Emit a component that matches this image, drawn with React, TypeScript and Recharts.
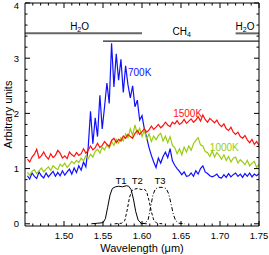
import { LineChart, Line, XAxis, YAxis, ReferenceLine, ReferenceDot } from "recharts"

const FONT = "'Liberation Sans', Arial, Helvetica, sans-serif"

// wavelength grid (micron)
const wavelengths = [
  1.453, 1.456, 1.459, 1.462, 1.465, 1.468, 1.471, 1.474, 1.477, 1.48,
  1.483, 1.486, 1.489, 1.492, 1.495, 1.498, 1.501, 1.504, 1.507, 1.51,
  1.513, 1.516, 1.519, 1.522, 1.525, 1.528, 1.531, 1.534, 1.537, 1.54,
  1.543, 1.546, 1.549, 1.552, 1.555, 1.558, 1.561, 1.564, 1.567, 1.57,
  1.573, 1.576, 1.579, 1.582, 1.585, 1.588, 1.591, 1.594, 1.597, 1.6,
  1.603, 1.606, 1.609, 1.612, 1.615, 1.618, 1.621, 1.624, 1.627, 1.63,
  1.633, 1.636, 1.639, 1.642, 1.645, 1.648, 1.651, 1.654, 1.657, 1.66,
  1.663, 1.666, 1.669, 1.672, 1.675, 1.678, 1.681, 1.684, 1.687, 1.69,
  1.693, 1.696, 1.699, 1.702, 1.705, 1.708, 1.711, 1.714, 1.717, 1.72,
  1.723, 1.726, 1.729, 1.732, 1.735, 1.738, 1.741, 1.744, 1.747, 1.75,
]

const flux700K = [
  0.87, 0.81, 0.92, 0.86, 0.82, 0.94, 0.87, 0.83, 0.92, 0.85,
  0.9, 0.95, 0.86, 0.93, 0.87, 0.96, 0.88, 0.94, 0.99, 0.9,
  1.01, 0.93, 1.05, 0.97, 1.12, 1.03, 1.38, 2.04, 1.45, 1.92,
  1.58, 2.33, 1.72, 2.12, 2.55, 2.18, 3.27, 2.48, 3.08, 2.6,
  2.98, 2.38, 2.86, 2.52, 2.28, 2.5, 2.12, 2.24, 1.88, 1.96,
  1.72, 1.56, 1.38, 1.24, 1.12, 1.02, 1.19, 1.1, 1.22, 1.3,
  1.2, 1.36, 1.14, 1.06, 1.0, 0.95, 0.89, 0.94, 0.86, 0.87,
  0.92, 0.86, 0.96, 0.9, 1.0, 1.05, 0.94, 0.91, 0.87, 0.85,
  0.87, 0.9, 0.84, 0.83, 0.89, 0.84, 0.91, 0.85, 0.89, 0.92,
  0.86, 0.9, 0.84, 0.91, 0.86, 0.92, 0.85, 0.9, 0.87, 0.91,
]

const flux1000K = [
  0.93, 0.88, 0.95, 0.98, 0.91, 0.96, 1.01, 0.94, 0.99, 1.03,
  0.97, 1.05, 1.01, 0.98, 1.08, 1.04, 1.1, 1.02, 1.07, 1.13,
  1.09, 1.15, 1.11, 1.19, 1.14, 1.23, 1.18, 1.26, 1.21, 1.31,
  1.35, 1.28, 1.39, 1.34, 1.43, 1.37, 1.49, 1.42, 1.53, 1.46,
  1.56, 1.5, 1.63, 1.56, 1.72, 1.6, 1.79, 1.63, 1.73, 1.58,
  1.69, 1.53, 1.63, 1.49, 1.59, 1.52, 1.6, 1.64, 1.5, 1.59,
  1.47, 1.58, 1.42, 1.38, 1.27, 1.36, 1.25, 1.39, 1.3, 1.41,
  1.33, 1.45, 1.51, 1.56, 1.43, 1.41, 1.31, 1.29, 1.22, 1.32,
  1.21, 1.29, 1.24, 1.17, 1.25, 1.15, 1.22, 1.12, 1.19, 1.21,
  1.1, 1.16, 1.12, 1.07, 1.15, 1.05, 1.1, 1.13, 1.02, 1.08,
]

const flux1500K = [
  1.17, 1.12, 1.21, 1.26, 1.35, 1.19, 1.23, 1.3, 1.22, 1.17,
  1.27, 1.2, 1.24, 1.33, 1.28, 1.19, 1.23, 1.18, 1.3, 1.25,
  1.22, 1.29, 1.24, 1.27, 1.36, 1.28, 1.33, 1.41, 1.34, 1.38,
  1.46, 1.38, 1.42, 1.49, 1.44, 1.4, 1.51, 1.55, 1.47, 1.53,
  1.5, 1.59, 1.55, 1.62, 1.58, 1.55, 1.64, 1.69, 1.62, 1.67,
  1.72, 1.66, 1.7, 1.77, 1.71, 1.75, 1.8, 1.74, 1.78, 1.84,
  1.79, 1.76, 1.84, 1.81, 1.87, 1.8, 1.83, 1.89, 1.82, 1.86,
  1.9, 1.84, 1.88, 1.94, 1.86, 1.97, 1.89, 1.84, 1.91, 1.87,
  1.83, 1.88, 1.8, 1.76, 1.81, 1.72, 1.69, 1.75, 1.66, 1.62,
  1.66, 1.58, 1.55, 1.6, 1.52, 1.47, 1.53, 1.44, 1.49, 1.42,
]

// filter transmission curves
const t1Wave = [1.535, 1.543, 1.55, 1.553, 1.556, 1.559, 1.562, 1.566, 1.57, 1.575, 1.58, 1.583, 1.586, 1.589, 1.592, 1.595, 1.599, 1.606]
const t1Trans = [0.0, 0.01, 0.02, 0.09, 0.3, 0.52, 0.64, 0.67, 0.68, 0.67, 0.69, 0.68, 0.62, 0.45, 0.22, 0.07, 0.01, 0.0]
const t2Wave = [1.565, 1.574, 1.578, 1.581, 1.584, 1.587, 1.591, 1.595, 1.599, 1.603, 1.606, 1.609, 1.612, 1.615, 1.619, 1.626]
const t2Trans = [0.0, 0.01, 0.06, 0.25, 0.48, 0.6, 0.63, 0.64, 0.62, 0.63, 0.58, 0.42, 0.22, 0.07, 0.01, 0.0]
const t3Wave = [1.598, 1.604, 1.608, 1.611, 1.614, 1.617, 1.621, 1.626, 1.631, 1.634, 1.637, 1.64, 1.643, 1.647, 1.655]
const t3Trans = [0.0, 0.01, 0.08, 0.3, 0.52, 0.63, 0.66, 0.66, 0.64, 0.55, 0.38, 0.18, 0.06, 0.01, 0.0]

const h2oBands = [[1.45, 1.6], [1.72, 1.75]]
const ch4Band = [1.55, 1.75]

const xMajorTicks = [1.5, 1.55, 1.6, 1.65, 1.7, 1.75]
const xMajorLabels = ["1.50", "1.55", "1.60", "1.65", "1.70", "1.75"]
const yMajorTicks = [0, 1, 2, 3, 4]
const yMajorLabels = ["0", "1", "2", "3", "4"]

const xTicks: number[] = []
for (let i = 146; i <= 175; i++) xTicks.push(i / 100)
const yTicks: number[] = []
for (let i = 0; i <= 20; i++) yTicks.push(i / 5)

const spectra = wavelengths.map((w, i) => ({
  w,
  k700: flux700K[i],
  k1000: flux1000K[i],
  k1500: flux1500K[i],
}))
const rows = (ws: number[], vs: number[]) => ws.map((w, i) => ({ w, t: vs[i] }))

const majorIndex = (v: number, majors: number[]) => majors.findIndex((m) => Math.abs(m - v) < 1e-6)

function BottomTick({ x, y, payload }: any) {
  const i = majorIndex(payload.value, xMajorTicks)
  const len = i >= 0 ? 5 : 2.5
  return (
    <g>
      <line x1={x} y1={y} x2={x} y2={y - len} stroke="#000" />
      {i >= 0 && (
        <text x={x} y={y + 12.5} textAnchor="middle" fontSize={9.5} fontFamily={FONT} fill="#000">
          {xMajorLabels[i]}
        </text>
      )}
    </g>
  )
}

function TopTick({ x, y, payload }: any) {
  const len = majorIndex(payload.value, xMajorTicks) >= 0 ? 5 : 2.5
  return <line x1={x} y1={y} x2={x} y2={y + len} stroke="#000" />
}

function LeftTick({ x, y, payload }: any) {
  const i = majorIndex(payload.value, yMajorTicks)
  const len = i >= 0 ? 5 : 2.5
  return (
    <g>
      <line x1={x} y1={y} x2={x + len} y2={y} stroke="#000" />
      {i >= 0 && (
        <text x={x - 6} y={Math.max(y + 3.5, 8.5)} textAnchor="end" fontSize={9.5} fontFamily={FONT} fill="#000">
          {yMajorLabels[i]}
        </text>
      )}
    </g>
  )
}

function RightTick({ x, y, payload }: any) {
  const len = majorIndex(payload.value, yMajorTicks) >= 0 ? 5 : 2.5
  return <line x1={x} y1={y} x2={x - len} y2={y} stroke="#000" />
}

const note = (text: string, color: string, anchor = "start", size = 10) => (p: any) => (
  <text x={p.cx} y={p.cy} fill={color} fontSize={size} fontFamily={FONT} textAnchor={anchor}>
    {text}
  </text>
)

const molecule = (base: string, sub: string, tail: string) => (p: any) => (
  <text x={p.cx} y={p.cy} fill="#000" fontSize={10} fontFamily={FONT} textAnchor="middle">
    {base}
    <tspan fontSize={7} dy={2}>{sub}</tspan>
    <tspan dy={-2}>{tail}</tspan>
  </text>
)

export default function App() {
  return (
    <div style={{ position: "absolute", left: 0, top: 0, background: "#fff" }}>
      <LineChart width={269} height={255} data={spectra} margin={{ top: 0, right: 0, bottom: 0, left: 0 }}>
        <XAxis
          dataKey="w"
          type="number"
          domain={[1.45, 1.75]}
          allowDataOverflow
          ticks={xTicks}
          interval={0}
          height={29}
          tickSize={0}
          tickMargin={0}
          tickLine={false}
          tick={<BottomTick />}
          axisLine={{ stroke: "#000" }}
          label={(p: any) => (
            <text
              x={p.viewBox.x + p.viewBox.width / 2}
              y={p.viewBox.y + 26}
              textAnchor="middle"
              fontSize={11}
              fontFamily={FONT}
              fill="#000"
            >
              Wavelength (μm)
            </text>
          )}
        />
        <XAxis
          xAxisId="top"
          orientation="top"
          dataKey="w"
          type="number"
          domain={[1.45, 1.75]}
          allowDataOverflow
          ticks={xTicks}
          interval={0}
          height={3}
          tickSize={0}
          tickMargin={0}
          tickLine={false}
          tick={<TopTick />}
          axisLine={{ stroke: "#000" }}
        />
        <YAxis
          type="number"
          domain={[-0.04, 4]}
          allowDataOverflow
          ticks={yTicks}
          interval={0}
          width={25}
          tickSize={0}
          tickMargin={0}
          tickLine={false}
          tick={<LeftTick />}
          axisLine={{ stroke: "#000" }}
          label={(p: any) => (
            <text
              x={12}
              y={p.viewBox.y + p.viewBox.height / 2}
              transform={`rotate(-90 12 ${p.viewBox.y + p.viewBox.height / 2})`}
              textAnchor="middle"
              fontSize={11}
              fontFamily={FONT}
              fill="#000"
            >
              Arbitrary units
            </text>
          )}
        />
        <YAxis
          yAxisId="right"
          orientation="right"
          type="number"
          domain={[-0.04, 4]}
          allowDataOverflow
          ticks={yTicks}
          interval={0}
          width={10}
          tickSize={0}
          tickMargin={0}
          tickLine={false}
          tick={<RightTick />}
          axisLine={{ stroke: "#000" }}
        />

        {h2oBands.map((b, i) => (
          <ReferenceLine
            key={"h2o" + i}
            segment={[{ x: b[0], y: 3.45 }, { x: b[1], y: 3.45 }]}
            stroke="#666"
            strokeWidth={2}
          />
        ))}
        <ReferenceLine
          segment={[{ x: ch4Band[0], y: 3.31 }, { x: ch4Band[1], y: 3.31 }]}
          stroke="#222"
          strokeWidth={1.3}
        />

        <Line dataKey="k700" stroke="#1010ff" strokeWidth={1.2} dot={false} type="linear" isAnimationActive={false} />
        <Line dataKey="k1000" stroke="#99cc11" strokeWidth={1.2} dot={false} type="linear" isAnimationActive={false} />
        <Line dataKey="k1500" stroke="#ff1010" strokeWidth={1.2} dot={false} type="linear" isAnimationActive={false} />

        <Line data={rows(t1Wave, t1Trans)} dataKey="t" stroke="#000" strokeWidth={1} dot={false} type="linear" isAnimationActive={false} />
        <Line data={rows(t2Wave, t2Trans)} dataKey="t" stroke="#000" strokeWidth={1} strokeDasharray="3 2" dot={false} type="linear" isAnimationActive={false} />
        <Line data={rows(t3Wave, t3Trans)} dataKey="t" stroke="#000" strokeWidth={1} strokeDasharray="4 2 1 2" dot={false} type="linear" isAnimationActive={false} />

        <ReferenceDot x={1.52} y={3.51} r={0} ifOverflow="visible" shape={molecule("H", "2", "O")} />
        <ReferenceDot x={1.651} y={3.42} r={0} ifOverflow="visible" shape={molecule("CH", "4", "")} />
        <ReferenceDot x={1.732} y={3.51} r={0} ifOverflow="visible" shape={molecule("H", "2", "O")} />

        <ReferenceDot x={1.582} y={2.68} r={0} ifOverflow="visible" shape={note("700K", "#1010ff")} />
        <ReferenceDot x={1.64} y={1.93} r={0} ifOverflow="visible" shape={note("1500K", "#ff1010")} />
        <ReferenceDot x={1.687} y={1.32} r={0} ifOverflow="visible" shape={note("1000K", "#99cc11")} />

        <ReferenceDot x={1.573} y={0.72} r={0} ifOverflow="visible" shape={note("T1", "#000", "middle", 9.5)} />
        <ReferenceDot x={1.594} y={0.72} r={0} ifOverflow="visible" shape={note("T2", "#000", "middle", 9.5)} />
        <ReferenceDot x={1.623} y={0.72} r={0} ifOverflow="visible" shape={note("T3", "#000", "middle", 9.5)} />
      </LineChart>
    </div>
  )
}
